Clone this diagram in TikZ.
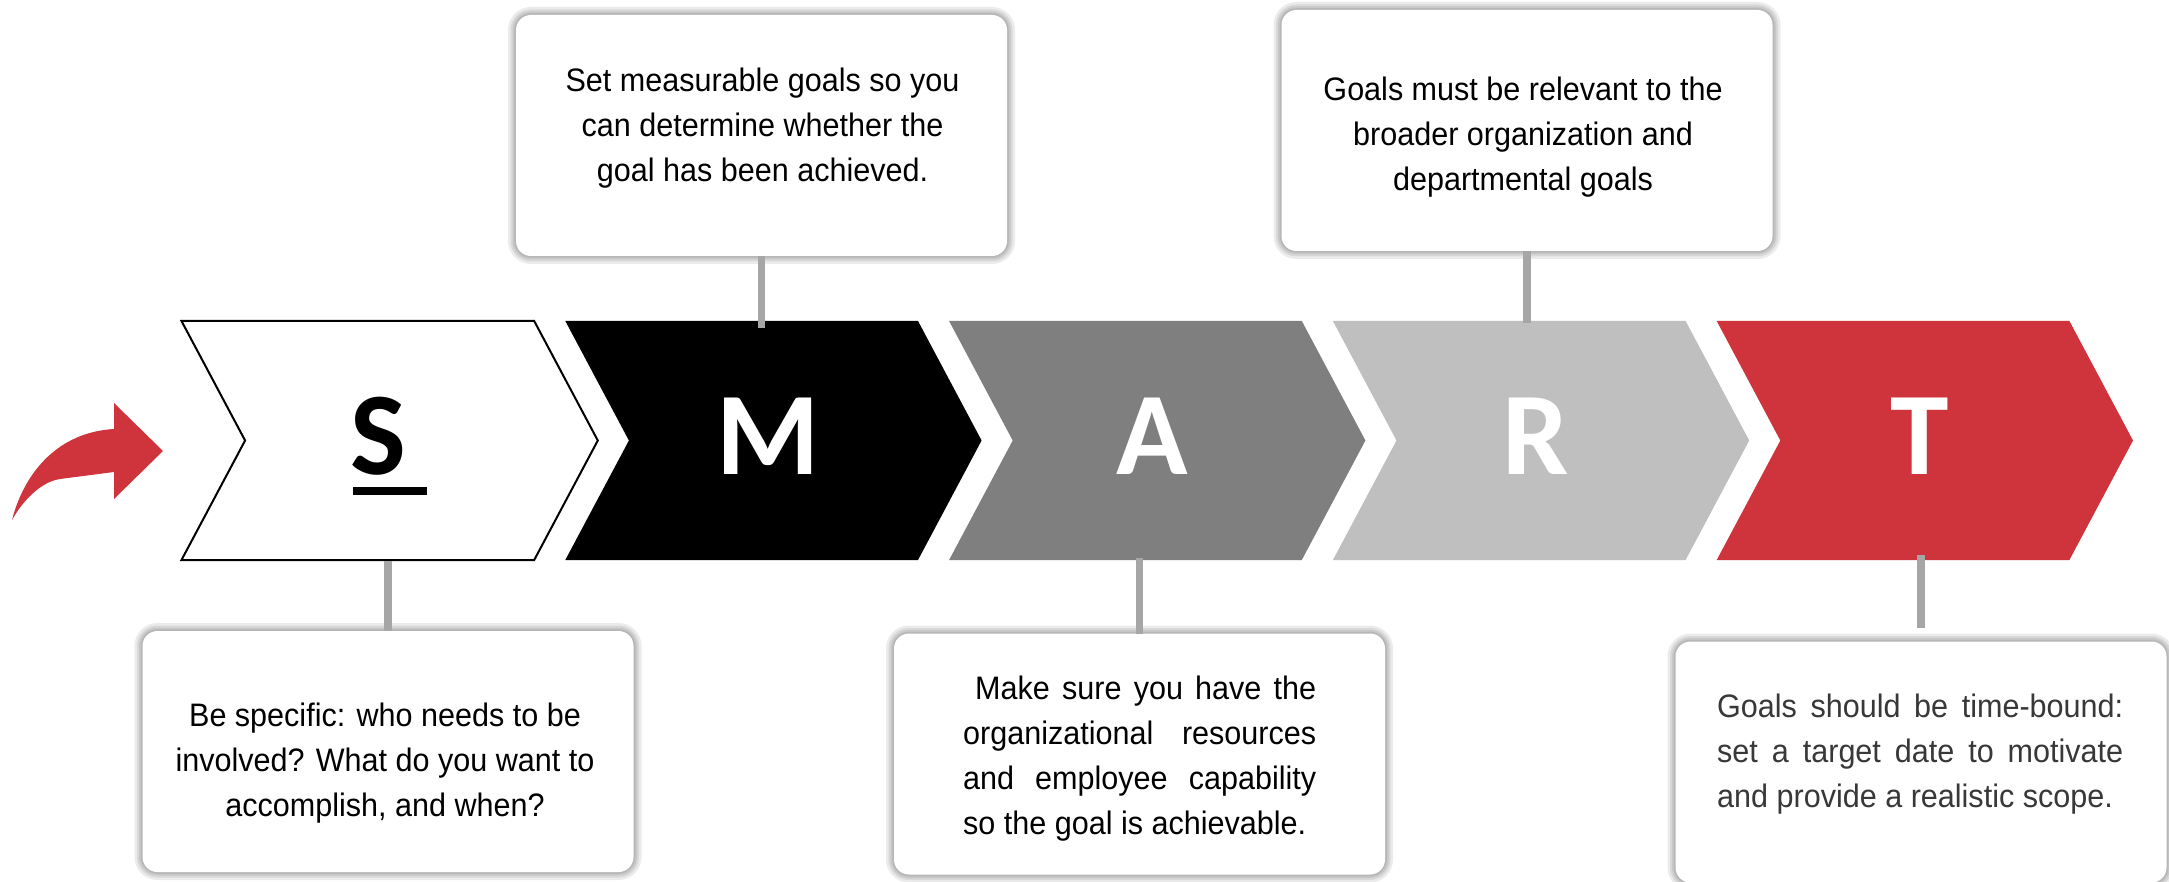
\documentclass[tikz,border=0pt]{standalone}
\usepackage{fontspec}
\setmainfont{Liberation Sans}
\newfontfamily\boxfont{Liberation Sans}[FakeStretch=0.94]
\newfontfamily\letterfont{Carlito}
\usetikzlibrary{calc}

\definecolor{smartred}{HTML}{CF343D}
\definecolor{midgray}{HTML}{7F7F7F}
\definecolor{palegray}{HTML}{BFBFBF}
\definecolor{linkgray}{HTML}{A6A6A6}
\definecolor{textdark}{HTML}{383838}

\begin{document}
\begin{tikzpicture}[x=1pt,y=-1pt,
  chevbody/.style={minimum width=352.7pt, minimum height=239pt, inner sep=0pt, outer sep=0pt},
  stageletter/.style={font=\letterfont\bfseries\fontsize{118}{118}\selectfont, inner sep=0pt, anchor=base},
  notecard/.style={fill=white, rounded corners=15pt, minimum width=491pt, minimum height=241pt,
    inner sep=0pt, outer sep=0pt,
    preaction={draw=black, draw opacity=0.08, line width=16pt},
    preaction={draw=black, draw opacity=0.08, line width=11pt},
    preaction={draw=black, draw opacity=0.08, line width=7pt},
    preaction={draw=black, draw opacity=0.08, line width=3.5pt}},
  notetext/.style={font=\boxfont\fontsize{32.5}{45}\selectfont, inner sep=0pt, text=black},
  notelink/.style={draw=linkgray, line width=7.5pt}
]
\useasboundingbox (0,0) rectangle (2169,882);
\fill[white] (0,0) rectangle (2169,882);

% curved lead-in arrow
\fill[smartred] (163,451) -- (114,403) -- (114,429)
  .. controls (60,432) and (25,470) .. (12,520)
  .. controls (22,502) and (40,482) .. (60,479)
  -- (114,472) -- (114,499) -- cycle;

% the five chevrons
\foreach \nm/\lx/\fc in {cS/181.5/white, cM/565.3/black, cA/949.1/midgray, cR/1332.9/palegray, cT/1716.7/smartred} {
  \node[chevbody] (\nm) at (\lx+176.35, 440.5) {};
  \fill[\fc] (\nm.north west) -- (\nm.north east) -- ([xshift=63.6pt]\nm.east)
    -- (\nm.south east) -- (\nm.south west) -- ([xshift=63.6pt]\nm.west) -- cycle;
}
\draw[line width=2pt, line join=miter] (cS.north west) -- (cS.north east) -- ([xshift=63.6pt]cS.east)
  -- (cS.south east) -- (cS.south west) -- ([xshift=63.6pt]cS.west) -- cycle;

% letters
\node[stageletter, anchor=base west] (lS) at (350,475) {S};
\fill (lS.base west) ++(3,12) rectangle ++(74,8);
\node[stageletter, text=white] (lM) at (768,475) {M};
\node[stageletter, text=white] (lA) at (1152,475) {A};
\node[stageletter, text=white] (lR) at (1536,475) {R};
\node[stageletter, text=white] (lT) at (1920,475) {T};

% note cards
\node[notecard] (bS) at (388,751.5) {};
\node[notecard] (bM) at (761.5,135.5) {};
\node[notecard] (bA) at (1139.5,754) {};
\node[notecard] (bR) at (1527,130.5) {};
\node[notecard] (bT) at (1921,762) {};

\node[notetext, align=center, anchor=north] (tS) at (385,702)
  {\rule{0pt}{24pt}Be specific: who needs to be\\involved? What do you want to\\accomplish, and when?};
\node[notetext, align=center, anchor=north] (tM) at (762.5,67.7)
  {\rule{0pt}{24pt}Set measurable goals so you\\can determine whether the\\goal has been achieved.};
\node[notetext, align=center, anchor=north] (tR) at (1523,76)
  {\rule{0pt}{24pt}Goals must be relevant to the\\broader organization and\\departmental goals};
\node[notetext, text width=353pt, align=justify, anchor=north west] (tA) at (963,675)
  {\noindent\rule{0pt}{24pt}\hspace*{12pt}Make sure you have the\linebreak organizational resources\linebreak and employee capability\linebreak so the goal is achievable.};
\node[notetext, text=textdark, text width=406pt, align=justify, anchor=north west] (tT) at (1717,693)
  {\noindent\rule{0pt}{24pt}Goals should be time-bound:\linebreak set a target date to motivate\linebreak and provide a realistic scope.};

% connectors between chevrons and cards
\draw[notelink] ($(bS.north |- cS.south)+(0,1)$) -- (bS.north);
\draw[notelink] (bM.south) -- ($(bM.south |- cM.north)+(0,7)$);
\draw[notelink] ($(bA.north |- cA.south)+(0,-2)$) -- (bA.north);
\draw[notelink] (bR.south) -- ($(bR.south |- cR.north)+(0,2)$);
\draw[notelink] ($(bT.north |- cT.south)+(0,-5)$) -- ($(bT.north)+(0,-14)$);
\end{tikzpicture}
\end{document}
